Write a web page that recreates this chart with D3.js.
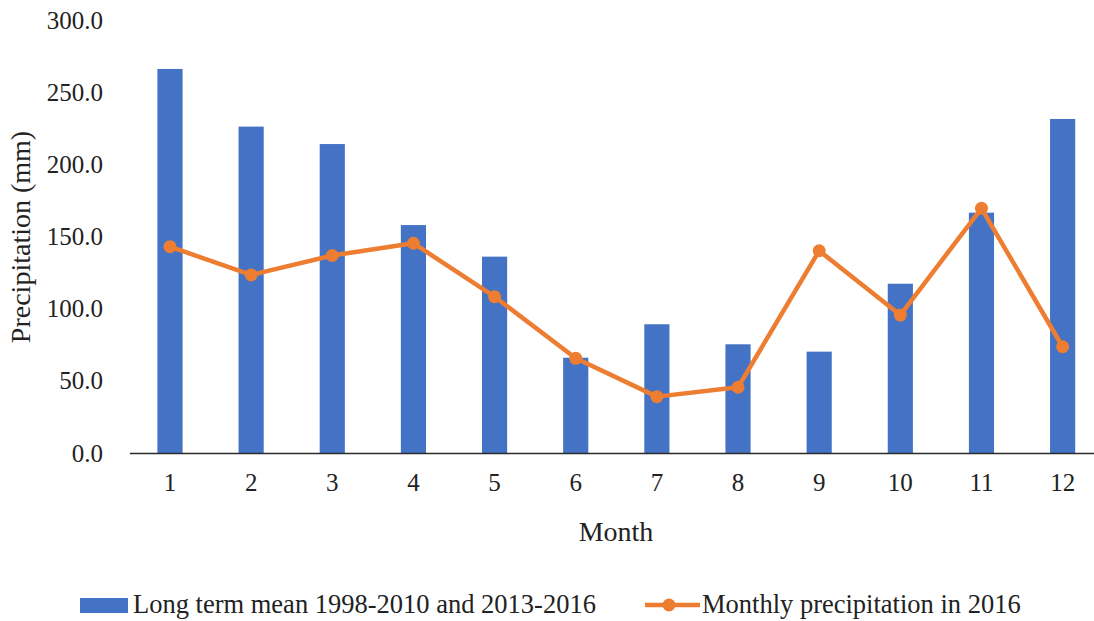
<!DOCTYPE html>
<html>
<head>
<meta charset="utf-8">
<script src="https://cdn.jsdelivr.net/npm/d3@7/dist/d3.min.js"></script>
<style>
  html, body { margin: 0; padding: 0; background: #fff; }
  svg { display: block; }
  text { font-family: "Liberation Serif", "Times New Roman", serif; fill: #222; }
</style>
</head>
<body>
<svg id="chart" width="1094" height="621"></svg>
<script>
// Monthly precipitation: long-term mean (bars) vs. 2016 (line)
const months = ["1", "2", "3", "4", "5", "6", "7", "8", "9", "10", "11", "12"];
const longTermMean = [266.4, 226.4, 214.3, 158.1, 136.2, 66.1, 89.3, 75.4, 70.3, 117.4, 166.7, 231.7];
const precip2016 = [143.1, 123.5, 137.0, 145.5, 108.4, 65.7, 39.1, 45.6, 140.3, 95.7, 169.7, 73.7];
const yTicks = [0, 50, 100, 150, 200, 250, 300];
const seriesNames = ["Long term mean 1998-2010 and 2013-2016", "Monthly precipitation in 2016"];

const blue = "#4472C4";
const orange = "#ED7D31";

const svg = d3.select("#chart");

const x = d3.scaleBand()
  .domain(months)
  .range([129.4, 1103.2])
  .paddingInner(0.69)
  .paddingOuter(0.345);

const y = d3.scaleLinear()
  .domain([0, 300])
  .range([453, 20.5]);

// Y tick labels (no axis line, no gridlines)
const yAxis = d3.axisLeft(y)
  .tickValues(yTicks)
  .tickFormat(d3.format(".1f"))
  .tickSize(0)
  .tickPadding(0);
const yg = svg.append("g")
  .attr("transform", "translate(103,0)")
  .call(yAxis);
yg.select(".domain").remove();
yg.selectAll("text")
  .attr("font-size", 25)
  .attr("font-family", "Liberation Serif, serif")
  .attr("fill", "#222")
  .attr("dy", "0.32em");

// Bars
svg.append("g")
  .selectAll("rect")
  .data(months)
  .join("rect")
  .attr("x", d => x(d))
  .attr("width", x.bandwidth())
  .attr("y", (d, i) => y(longTermMean[i]))
  .attr("height", (d, i) => y(0) - y(longTermMean[i]))
  .attr("fill", blue);

// X axis baseline and month labels
const xAxis = d3.axisBottom(x).tickSize(0).tickPadding(0);
const xg = svg.append("g")
  .attr("transform", `translate(0,${y(0)})`)
  .call(xAxis);
xg.select(".domain")
  .attr("stroke", "#2b2b2b")
  .attr("stroke-width", 1.6);
xg.selectAll("text")
  .attr("font-size", 25)
  .attr("font-family", "Liberation Serif, serif")
  .attr("fill", "#222")
  .attr("y", 38)
  .attr("dy", "0");

// 2016 line with markers
const cx = d => x(d) + x.bandwidth() / 2;
const line = d3.line()
  .x((d, i) => cx(months[i]))
  .y(d => y(d));

svg.append("path")
  .datum(precip2016)
  .attr("d", line)
  .attr("fill", "none")
  .attr("stroke", orange)
  .attr("stroke-width", 4.5)
  .attr("stroke-linejoin", "round");

svg.append("g")
  .selectAll("circle")
  .data(precip2016)
  .join("circle")
  .attr("cx", (d, i) => cx(months[i]))
  .attr("cy", d => y(d))
  .attr("r", 6.5)
  .attr("fill", orange);

// Axis titles
svg.append("text")
  .attr("x", 616)
  .attr("y", 541)
  .attr("text-anchor", "middle")
  .attr("font-size", 28)
  .text("Month");

svg.append("text")
  .attr("transform", "translate(30,237) rotate(-90)")
  .attr("text-anchor", "middle")
  .attr("font-size", 28)
  .text("Precipitation (mm)");

// Legend
const lg = svg.append("g");
lg.append("rect")
  .attr("x", 80).attr("y", 598)
  .attr("width", 48).attr("height", 15)
  .attr("fill", blue);
lg.append("text")
  .attr("x", 133).attr("y", 613)
  .attr("font-size", 26.5)
  .text(seriesNames[0]);

lg.append("line")
  .attr("x1", 645).attr("x2", 700)
  .attr("y1", 605).attr("y2", 605)
  .attr("stroke", orange)
  .attr("stroke-width", 4.5);
lg.append("circle")
  .attr("cx", 669).attr("cy", 605)
  .attr("r", 6.5)
  .attr("fill", orange);
lg.append("text")
  .attr("x", 702).attr("y", 613)
  .attr("font-size", 26.5)
  .text(seriesNames[1]);
</script>
</body>
</html>
